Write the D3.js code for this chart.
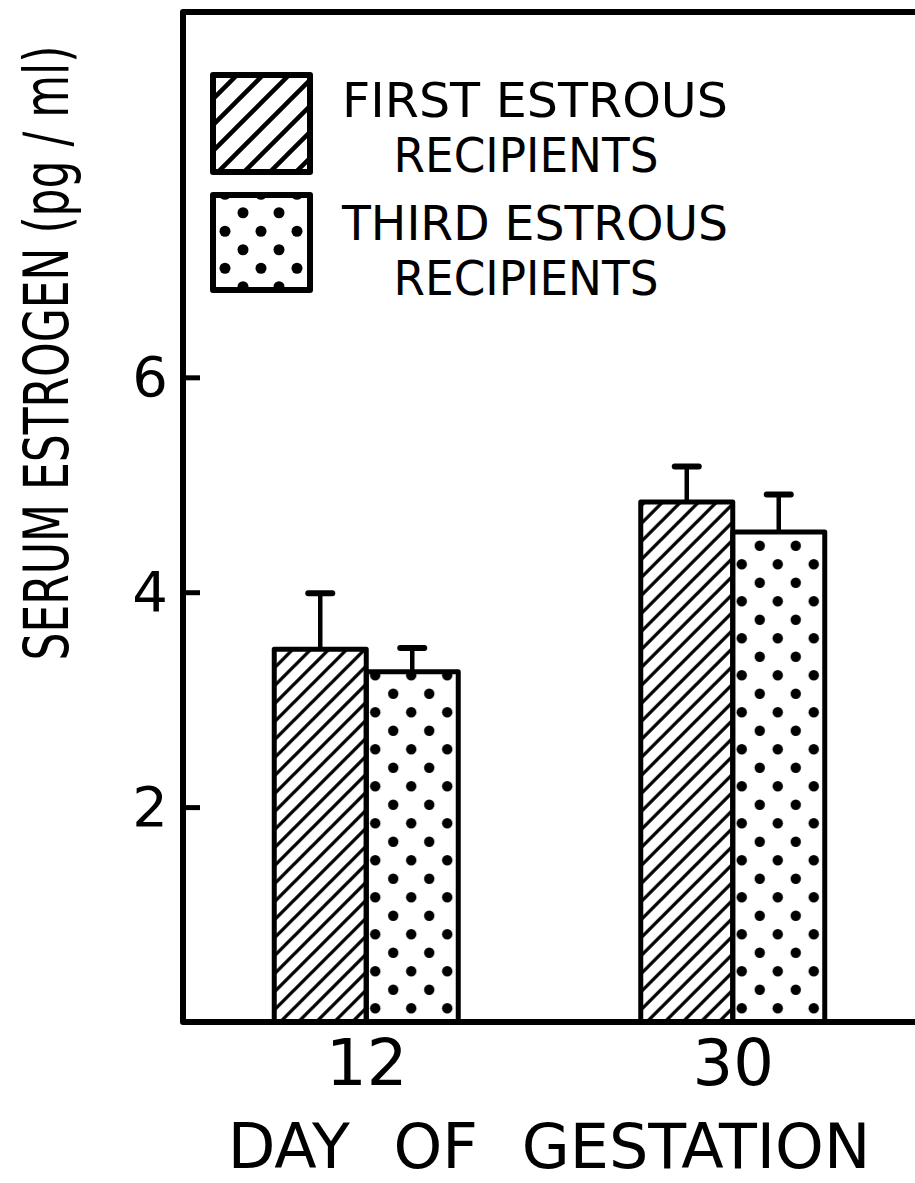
<!DOCTYPE html>
<html>
<head>
<meta charset="utf-8">
<title>Serum estrogen by day of gestation</title>
<script src="https://d3js.org/d3.v7.min.js"></script>
<style>
  body { margin: 0; background: #fff; }
  svg { display: block; }
  text { font-family: "DejaVu Sans", "Liberation Sans", sans-serif; fill: #000; }
</style>
</head>
<body>
<div id="chart"></div>
<script>
// data
var days = ["12", "30"];
var series = ["first", "third"];
var seriesLabels = [["FIRST ESTROUS", "RECIPIENTS"], ["THIRD ESTROUS", "RECIPIENTS"]];
var firstMeans = [3.47, 4.84];
var firstErr = [0.52, 0.33];
var thirdMeans = [3.26, 4.56];
var thirdErr = [0.22, 0.35];
var yTicks = [2, 4, 6];

var width = 915, height = 1183;
var plotLeft = 183, plotRight = 916, plotTop = 12, plotBottom = 1022;

var svg = d3.select("#chart").append("svg")
	.attr("width", width)
	.attr("height", height);

svg.append("rect").attr("width", width).attr("height", height).attr("fill", "#fff");

var defs = svg.append("defs");

// diagonal hatch ///
function hatch(id, s, w) {
	defs.append("pattern")
		.attr("id", id)
		.attr("patternUnits", "userSpaceOnUse")
		.attr("width", s).attr("height", s)
	  .append("path")
		.attr("d", "M" + (-s / 4) + "," + (s / 4) + " l" + (s / 2) + "," + (-s / 2) +
			" M0," + s + " l" + s + "," + (-s) +
			" M" + (s * 3 / 4) + "," + (s * 5 / 4) + " l" + (s / 2) + "," + (-s / 2))
		.attr("stroke", "#000")
		.attr("stroke-width", w);
}
hatch("hatch", 18, 3.3);
hatch("hatchLegend", 26, 4.5);

// staggered dots
function dots(id, r) {
	var p = defs.append("pattern")
		.attr("id", id)
		.attr("patternUnits", "userSpaceOnUse")
		.attr("width", 36).attr("height", 37);
	p.append("circle").attr("cx", 9).attr("cy", 9.25).attr("r", r);
	p.append("circle").attr("cx", 27).attr("cy", 27.75).attr("r", r);
}
dots("dots", 5.2);
dots("dotsLegend", 5.5);

var fills = {first: "url(#hatch)", third: "url(#dots)"};
var legendFills = ["url(#hatchLegend)", "url(#dotsLegend)"];

var y = d3.scaleLinear().domain([0, 9.4]).range([plotBottom, plotTop]);

var x0 = d3.scalePoint().domain(days).range([plotLeft, plotRight]).padding(0.5);
var x1 = d3.scaleBand().domain(series).range([-92, 92]);

var data = days.map(function(d, i) {
	return {
		day: d,
		bars: [
			{key: "first", mean: firstMeans[i], err: firstErr[i]},
			{key: "third", mean: thirdMeans[i], err: thirdErr[i]}
		]
	};
});

var groups = svg.append("g").selectAll("g")
	.data(data)
  .enter().append("g")
	.attr("transform", function(d) { return "translate(" + x0(d.day) + ",0)"; });

// error bars first so the bar outline sits on top
var eb = groups.selectAll(".err")
	.data(function(d) { return d.bars; })
  .enter().append("g")
	.attr("class", "err");

eb.append("line")
	.attr("x1", function(d) { return x1(d.key) + x1.bandwidth() / 2; })
	.attr("x2", function(d) { return x1(d.key) + x1.bandwidth() / 2; })
	.attr("y1", function(d) { return y(d.mean); })
	.attr("y2", function(d) { return y(d.mean + d.err); })
	.attr("stroke", "#000")
	.attr("stroke-width", 4.5);

eb.append("line")
	.attr("x1", function(d) { return x1(d.key) + x1.bandwidth() / 2 - 12; })
	.attr("x2", function(d) { return x1(d.key) + x1.bandwidth() / 2 + 12; })
	.attr("y1", function(d) { return y(d.mean + d.err); })
	.attr("y2", function(d) { return y(d.mean + d.err); })
	.attr("stroke", "#000")
	.attr("stroke-width", 6)
	.attr("stroke-linecap", "round");

groups.selectAll(".bar")
	.data(function(d) { return d.bars; })
  .enter().append("rect")
	.attr("class", "bar")
	.attr("x", function(d) { return x1(d.key); })
	.attr("y", function(d) { return y(d.mean); })
	.attr("width", x1.bandwidth())
	.attr("height", function(d) { return y(0) - y(d.mean); })
	.attr("fill", function(d) { return fills[d.key]; })
	.attr("stroke", "#000")
	.attr("stroke-width", 5)
	.attr("stroke-linejoin", "round");

// frame
svg.append("path")
	.attr("d", "M" + (plotRight + 2) + "," + plotTop + " L" + plotLeft + "," + plotTop +
		" L" + plotLeft + "," + plotBottom + " L" + (plotRight + 2) + "," + plotBottom)
	.attr("fill", "none")
	.attr("stroke", "#000")
	.attr("stroke-width", 6)
	.attr("stroke-linejoin", "round");

// y axis: ticks point inward
var yAxis = svg.append("g")
	.attr("transform", "translate(" + plotLeft + ",0)")
	.call(d3.axisLeft(y).tickValues(yTicks).tickSizeInner(-17).tickSizeOuter(0).tickPadding(15).tickFormat(d3.format("d")));
yAxis.select(".domain").remove();
yAxis.selectAll("line").attr("stroke", "#000").attr("stroke-width", 5);
yAxis.selectAll("text").attr("font-size", 56).attr("font-family", null);

// x axis labels
var xAxis = svg.append("g")
	.attr("transform", "translate(0," + plotBottom + ")")
	.call(d3.axisBottom(x0).tickSize(0).tickPadding(18));
xAxis.select(".domain").remove();
xAxis.selectAll("text").attr("font-size", 64).attr("font-family", null);

// axis titles
svg.append("text")
	.attr("transform", "translate(68,353) rotate(-90) scale(1,1.4)")
	.attr("text-anchor", "middle")
	.attr("font-size", 44)
	.text("SERUM ESTROGEN (pg / ml)");

svg.append("text")
	.attr("x", 549)
	.attr("y", 1168)
	.attr("text-anchor", "middle")
	.attr("font-size", 62)
	.attr("word-spacing", 24)
	.text("DAY OF GESTATION");

// legend
var legendBoxes = [{y: 75, h: 97}, {y: 195, h: 95}];
var lg = svg.append("g").selectAll("g")
	.data(seriesLabels)
  .enter().append("g");

lg.append("rect")
	.attr("x", 213)
	.attr("y", function(d, i) { return legendBoxes[i].y; })
	.attr("width", 97)
	.attr("height", function(d, i) { return legendBoxes[i].h; })
	.attr("fill", function(d, i) { return legendFills[i]; })
	.attr("stroke", "#000")
	.attr("stroke-width", 6)
	.attr("stroke-linejoin", "round");

lg.append("text")
	.attr("x", 535)
	.attr("y", function(d, i) { return i === 0 ? 117 : 240; })
	.attr("text-anchor", "middle")
	.attr("font-size", 48)
	.attr("textLength", 386)
	.attr("lengthAdjust", "spacingAndGlyphs")
	.text(function(d) { return d[0]; });

lg.append("text")
	.attr("x", 526)
	.attr("y", function(d, i) { return i === 0 ? 172 : 295; })
	.attr("text-anchor", "middle")
	.attr("font-size", 48)
	.attr("textLength", 265)
	.attr("lengthAdjust", "spacingAndGlyphs")
	.text(function(d) { return d[1]; });
</script>
</body>
</html>
